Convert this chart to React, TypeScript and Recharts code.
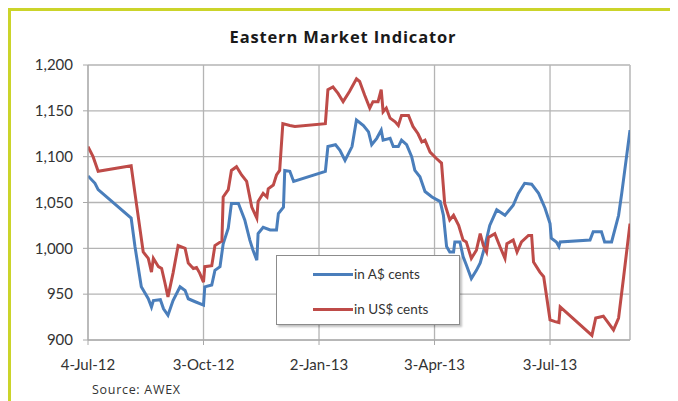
import React from "react";
import { LineChart, Line, XAxis, YAxis, CartesianGrid, Legend, ReferenceLine } from "recharts";

// Days counted from 4-Jul-12
const audDays = [0, 5.5, 8, 34, 37, 42, 47.5, 50, 51.5, 57, 59.5, 63, 67, 72.5, 76.5, 79, 84, 91, 92, 97.5, 100, 104, 106.5, 110.5, 113, 118.5, 123.5, 127.5, 130, 133, 134, 138, 143.5, 148.5, 150, 154, 155, 159, 162, 187, 189, 195, 198.5, 202.5, 208, 211.5, 217, 221, 223.5, 227.5, 231, 232.5, 238, 240.5, 244.5, 247, 251, 255, 257.5, 261.5, 265.5, 271, 277.5, 280, 282.5, 285, 288, 289, 293, 295.5, 298, 302, 306, 309, 313, 316.5, 322, 328.5, 335, 339, 344, 349.5, 355, 360, 364, 365, 369, 371, 372, 395.5, 398, 404.5, 407, 412.5, 418, 420.5, 427];
const audCents = [1079, 1071, 1064, 1033, 1002, 958, 945, 936, 943, 944, 934, 927, 943, 958, 954, 945, 942, 938, 958, 960, 976, 980, 1005, 1022, 1049, 1049, 1031, 1009, 998, 987, 1016, 1023, 1020, 1020, 1038, 1045, 1085, 1084, 1073, 1084, 1111, 1113, 1107, 1096, 1111, 1140, 1134, 1127, 1113, 1120, 1129, 1118, 1120, 1111, 1111, 1118, 1113, 1100, 1085, 1078, 1062, 1056, 1051, 1036, 1002, 996, 996, 1007, 1007, 991, 982, 967, 976, 984, 1004, 1025, 1042, 1036, 1047, 1060, 1071, 1070, 1060, 1044, 1027, 1011, 1007, 1002, 1007, 1009, 1018, 1018, 1007, 1007, 1036, 1060, 1129];

const usdDays = [0, 4, 8, 34, 37, 43.5, 47.5, 50, 51.5, 55.5, 58, 60.5, 63, 67, 71, 76.5, 79, 83, 85.5, 88, 91, 92, 97.5, 100, 105.5, 106.5, 110.5, 113, 117, 121, 125, 129, 133, 134, 138, 141, 142, 146, 148.5, 151, 153.5, 159, 163, 187, 189, 193, 197, 201, 206, 211.5, 214, 218, 222, 224.5, 228.5, 231, 232.5, 235, 238, 242, 244.5, 247, 252.5, 256, 260, 263, 265.5, 269.5, 274.5, 278.5, 281, 285, 288, 292, 295.5, 298, 302, 306, 309, 311.5, 314, 315.5, 320.5, 324.5, 328.5, 330, 335, 338, 341.5, 347, 349.5, 351, 356, 359, 364, 368, 371, 372, 397, 400, 406, 414, 418, 422, 427];
const usdCents = [1111, 1100, 1084, 1090, 1060, 996, 989, 974, 989, 980, 978, 963, 947, 973, 1003, 1000, 984, 978, 979, 973, 963, 980, 981, 1003, 1008, 1056, 1064, 1085, 1089, 1080, 1073, 1045, 1033, 1051, 1060, 1056, 1065, 1069, 1080, 1085, 1136, 1134, 1133, 1136, 1173, 1176, 1169, 1160, 1171, 1185, 1182, 1167, 1153, 1160, 1160, 1173, 1149, 1153, 1142, 1138, 1134, 1145, 1145, 1133, 1125, 1116, 1118, 1105, 1098, 1093, 1049, 1031, 1036, 1025, 1009, 1007, 989, 998, 1016, 1003, 996, 1012, 1016, 1002, 989, 1005, 1009, 996, 1007, 1014, 1014, 985, 974, 969, 922, 920, 919, 936, 905, 924, 926, 911, 924, 969, 1027];

const xTicks = [0, 91, 182, 273, 364];
const xTickLabels = ["4-Jul-12", "3-Oct-12", "2-Jan-13", "3-Apr-13", "3-Jul-13"];
const xMax = 427;
const yTicks = [900, 950, 1000, 1050, 1100, 1150, 1200];

const seriesNames = ["in A$ cents", "in US$ cents"];
const seriesColors = ["#4a7ebb", "#be4b48"];

const audData = audDays.map((d, i) => ({ day: d, value: audCents[i] }));
const usdData = usdDays.map((d, i) => ({ day: d, value: usdCents[i] }));

const FONT = "Lato, 'Noto Sans', sans-serif";
const WIDE = "'Open Sans', 'Noto Sans', sans-serif";

const fmtY = (v: number) =>
  v >= 1000 ? `${Math.floor(v / 1000)},${String(v % 1000).padStart(3, "0")}` : String(v);
const fmtX = (v: number) => {
  const i = xTicks.indexOf(v);
  return i >= 0 ? xTickLabels[i] : "";
};

const LegendBox = () => (
  <div
    style={{
      width: 184,
      height: 70,
      boxSizing: "border-box",
      border: "1.5px solid #8c8c8c",
      background: "#fff",
      boxShadow: "2px 2px 2px rgba(0,0,0,0.25)",
      fontFamily: FONT,
      fontSize: 13.5,
      color: "#333",
      position: "relative",
    }}
  >
    {seriesNames.map((n, i) => (
      <div
        key={n}
        style={{ position: "absolute", left: 36, top: i === 0 ? 8 : 43, display: "flex", alignItems: "center", height: 20 }}
      >
        <div style={{ width: 40, height: 3, background: seriesColors[i], marginRight: 1 }} />
        <span>{n}</span>
      </div>
    ))}
  </div>
);

export default function App() {
  return (
    <div style={{ position: "relative", width: 670, height: 393, background: "#fff" }}>
      <div style={{ position: "absolute", left: 0, top: 0, width: 670, height: 3, background: "#cbd42a" }} />
      <div style={{ position: "absolute", left: 0, top: 0, width: 3, height: 393, background: "#cbd42a" }} />
      <div
        style={{
          position: "absolute",
          top: 19,
          left: 0,
          width: 670,
          textAlign: "center",
          fontFamily: WIDE,
          fontWeight: 700,
          fontSize: 16.5,
          letterSpacing: 0.85,
          lineHeight: "20px",
          color: "#1a1a1a",
        }}
      >
        Eastern Market Indicator
      </div>
      <LineChart
        width={670}
        height={393}
        margin={{ top: 57, right: 48, left: 20, bottom: 31 }}
        style={{ position: "absolute", left: 0, top: 0 }}
      >
        <CartesianGrid stroke="#b4b4b4" strokeWidth={1.3} />
        <XAxis
          type="number"
          dataKey="day"
          domain={[0, xMax]}
          ticks={xTicks}
          tickFormatter={fmtX}
          allowDataOverflow
          height={30}
          stroke="#a8a8a8"
          tickSize={5}
          tickMargin={14}
          tick={{ fill: "#333", fontSize: 15, fontFamily: FONT }}
        />
        <YAxis
          type="number"
          domain={[900, 1200]}
          ticks={yTicks}
          tickFormatter={fmtY}
          width={60}
          stroke="#a8a8a8"
          tickSize={5}
          tickMargin={10}
          tick={{ fill: "#333", fontSize: 15, fontFamily: FONT }}
        />
        <ReferenceLine x={xMax} stroke="#c4c4c4" strokeWidth={1.3} />
        <Line data={audData} dataKey="value" name={seriesNames[0]} type="linear" stroke={seriesColors[0]} strokeWidth={3} dot={false} isAnimationActive={false} />
        <Line data={usdData} dataKey="value" name={seriesNames[1]} type="linear" stroke={seriesColors[1]} strokeWidth={3} dot={false} isAnimationActive={false} />
        <Legend
          layout="vertical"
          align="center"
          verticalAlign="middle"
          content={() => <LegendBox />}
          wrapperStyle={{ position: "absolute", left: 268, top: 247, width: 184, height: 70 }}
        />
      </LineChart>
      <div
        style={{
          position: "absolute",
          left: 84,
          top: 374,
          fontFamily: WIDE,
          fontSize: 12.5,
          letterSpacing: 0.7,
          lineHeight: "16px",
          color: "#333",
        }}
      >
        Source: AWEX
      </div>
    </div>
  );
}
